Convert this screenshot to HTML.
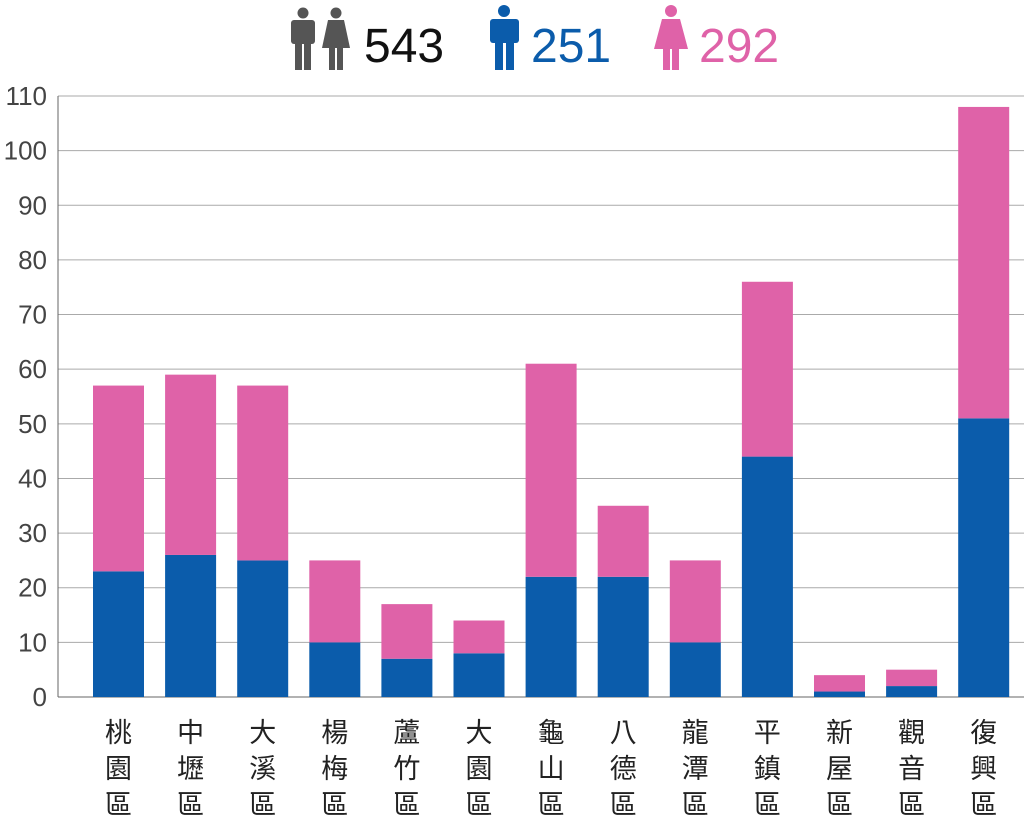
<!DOCTYPE html>
<html><head><meta charset="utf-8"><style>
body{margin:0;width:1024px;height:826px;background:#fff;overflow:hidden;font-family:"Liberation Sans","Noto Sans CJK TC",sans-serif}
</style></head><body>
<svg id="chart" width="1024" height="826" xmlns="http://www.w3.org/2000/svg">
<g>
 <g fill="#555">
  <circle cx="303" cy="13" r="5.5"/><rect x="291" y="20" width="24" height="24" rx="3"/><rect x="295" y="40" width="7" height="30"/><rect x="304" y="40" width="7" height="30"/>
  <circle cx="336" cy="13" r="5.5"/><path d="M328 20h16l6 28h-28z"/><rect x="329" y="46" width="6" height="24"/><rect x="337" y="46" width="6" height="24"/>
 </g>
 <text x="364" y="62" font-size="48" fill="#111">543</text>
 <g fill="#0b5cab">
  <circle cx="504" cy="11" r="6"/><rect x="490" y="19" width="29" height="24" rx="3"/><rect x="495" y="40" width="8" height="30"/><rect x="506" y="40" width="8" height="30"/>
 </g>
 <text x="531" y="62" font-size="48" fill="#0b5cab">251</text>
 <g fill="#df62a8">
  <circle cx="671" cy="11" r="6"/><path d="M662 19h18l8 30h-34z"/><rect x="663" y="47" width="7" height="23"/><rect x="672" y="47" width="7" height="23"/>
 </g>
 <text x="699" y="62" font-size="48" fill="#df62a8">292</text>
</g>
<g id="grid"></g><g id="bars"></g><g id="labels"></g>
</svg>
<script>
const categories=["桃園區","中壢區","大溪區","楊梅區","蘆竹區","大園區","龜山區","八德區","龍潭區","平鎮區","新屋區","觀音區","復興區"];
const maleValues=[23,26,25,10,7,8,22,22,10,44,1,2,51];
const femaleValues=[34,33,32,15,10,6,39,13,15,32,3,3,57];
const yTicks=[0,10,20,30,40,50,60,70,80,90,100,110];
const NS="http://www.w3.org/2000/svg";
const y0=697,y1=96,plotL=58,plotR=1024;
function y(v){return y0-(v/110)*(y0-y1);}
function x(i){return 118.5+i*72.1;}
const bw=51;
function mk(tag,attrs,parent){const e=document.createElementNS(NS,tag);for(const k in attrs)e.setAttribute(k,attrs[k]);parent.appendChild(e);return e;}
const grid=document.getElementById('grid'),bars=document.getElementById('bars'),labels=document.getElementById('labels');
yTicks.forEach(t=>{
 const l=mk('line',{x1:plotL,x2:plotR,y1:y(t),y2:y(t),stroke:t===0?'#666':'#aaa','stroke-width':1},grid);
 
 
 const tx=mk('text',{x:47,y:y(t)+9,'text-anchor':'end','font-size':26,fill:'#444'},grid);
 tx.textContent=t;
 
 
});
const ax=mk('line',{x1:plotL,x2:plotL,y1:y1,y2:y0,stroke:'#666'},grid);


categories.forEach((c,i)=>{
 const m=maleValues[i],f=femaleValues[i];
 const rm=mk('rect',{x:x(i)-bw/2,y:y(m),width:bw,height:y0-y(m),fill:'#0b5cab'},bars);
 
 
 const rf=mk('rect',{x:x(i)-bw/2,y:y(m+f),width:bw,height:y(m)-y(m+f),fill:'#df62a8'},bars);
 
 
 [...c].forEach((ch,j)=>{
  const t=mk('text',{x:x(i),y:742+j*36,'text-anchor':'middle','font-size':27,fill:'#222'},labels);
  t.textContent=ch;
  
  
 });
});
</script>
</body></html>
